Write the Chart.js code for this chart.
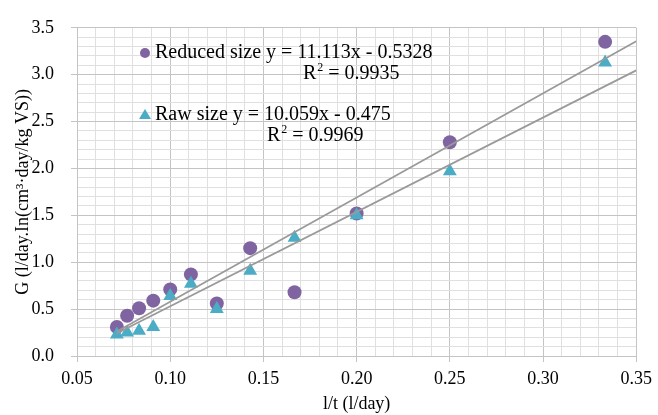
<!DOCTYPE html>
<html>
<head>
<meta charset="utf-8">
<script src="https://cdn.jsdelivr.net/npm/chart.js@4"></script>
<style>
  html, body { margin: 0; padding: 0; background: #ffffff; }
  #wrap { width: 658px; height: 415px; }
</style>
</head>
<body>
<div id="wrap"><canvas id="chart" width="658" height="415"></canvas></div>
<script>
// inverse retention time, 1/t (l/day)
const invT = [0.0714, 0.0769, 0.0833, 0.0909, 0.1, 0.1111, 0.125, 0.1429, 0.1667, 0.2, 0.25, 0.3333];
const reducedG = [0.31, 0.43, 0.51, 0.59, 0.71, 0.87, 0.56, 1.15, 0.68, 1.52, 2.28, 3.35];
const rawG = [0.23, 0.25, 0.27, 0.31, 0.64, 0.77, 0.50, 0.91, 1.26, 1.50, 1.97, 3.13];

// trendline coefficients as printed on the chart: [slope, intercept]
const reducedFit = [11.113, -0.5328];
const rawFit = [10.059, -0.475];
const trendRange = [0.0714, 0.35];

const labels = [
  { text: "Reduced size y = 11.113x - 0.5328", r2: "0.9935" },
  { text: "Raw size y = 10.059x - 0.475", r2: "0.9969" },
];

const PURPLE = "#8064a2";
const AQUA = "#4bacc6";
const SERIF = "'Liberation Serif', 'Times New Roman', serif";

const toPoints = (xs, ys) => xs.map((x, i) => ({ x, y: ys[i] }));
const fitLine = (fit) => trendRange.map((x) => ({ x, y: fit[0] * x + fit[1] }));

const isMajorX = (v) => Math.round(v * 100) % 5 === 0;
const isMajorY = (v) => Math.round(v * 10) % 5 === 0;

function drawR2(ctx, x, y, val) {
  ctx.fillText("R", x, y);
  const w = ctx.measureText("R").width;
  ctx.save();
  ctx.font = "12px " + SERIF;
  ctx.fillText("2", x + w + 1, y - 6);
  const w2 = ctx.measureText("2").width;
  ctx.restore();
  ctx.fillText(" = " + val, x + w + 1 + w2, y);
}

// equation labels beside the points, like the Excel trendline labels
const annotate = {
  id: "annotate",
  afterDatasetsDraw(chart) {
    const ctx = chart.ctx;
    ctx.save();
    ctx.font = "20px " + SERIF;
    ctx.textBaseline = "middle";
    ctx.textAlign = "left";

    ctx.fillStyle = PURPLE;
    ctx.beginPath();
    ctx.arc(145, 53, 5, 0, Math.PI * 2);
    ctx.fill();
    ctx.fillStyle = "#000";
    ctx.fillText(labels[0].text, 155, 53);
    drawR2(ctx, 303, 74, labels[0].r2);

    ctx.fillStyle = AQUA;
    ctx.beginPath();
    ctx.moveTo(145, 109);
    ctx.lineTo(151, 119);
    ctx.lineTo(139, 119);
    ctx.closePath();
    ctx.fill();
    ctx.fillStyle = "#000";
    ctx.fillText(labels[1].text, 155, 115);
    drawR2(ctx, 267, 136, labels[1].r2);

    ctx.restore();
  },
};

new Chart(document.getElementById("chart"), {
  type: "scatter",
  data: {
    datasets: [
      {
        type: "line",
        data: fitLine(reducedFit),
        borderColor: "#9a9a9a",
        borderWidth: 1.8,
        pointRadius: 0,
      },
      {
        type: "line",
        data: fitLine(rawFit),
        borderColor: "#9a9a9a",
        borderWidth: 1.8,
        pointRadius: 0,
      },
      {
        label: "Raw size",
        data: toPoints(invT, rawG),
        pointStyle: "triangle",
        pointRadius: 8,
        backgroundColor: AQUA,
        borderColor: AQUA,
        borderWidth: 0,
      },
      {
        label: "Reduced size",
        data: toPoints(invT, reducedG),
        pointStyle: "circle",
        pointRadius: 7,
        backgroundColor: PURPLE,
        borderColor: PURPLE,
        borderWidth: 0,
      },
    ],
  },
  options: {
    responsive: false,
    animation: false,
    events: [],
    layout: { padding: { left: 0, right: 21, top: 19, bottom: 0 } },
    plugins: {
      legend: { display: false },
      tooltip: { enabled: false },
    },
    scales: {
      x: {
        type: "linear",
        min: 0.05,
        max: 0.35,
        afterFit: (s) => { s.height = 59; },
        ticks: {
          stepSize: 0.01,
          autoSkip: false,
          maxRotation: 0,
          padding: 6,
          color: "#000",
          font: { family: SERIF, size: 18 },
          callback: (v) => (isMajorX(v) ? v.toFixed(2) : ""),
        },
        grid: {
          color: (c) => (isMajorX(c.tick.value) ? "#c4c4c4" : "#e0e0e0"),
          tickColor: (c) => (isMajorX(c.tick.value) ? "#c4c4c4" : "rgba(0,0,0,0)"),
          tickLength: 6,
          lineWidth: 1,
        },
        border: { color: "#c4c4c4" },
        title: {
          display: true,
          text: "l/t (l/day)",
          color: "#000",
          font: { family: SERIF, size: 18 },
          padding: { top: 0, bottom: 0 },
        },
      },
      y: {
        type: "linear",
        min: 0,
        max: 3.5,
        afterFit: (s) => { s.width = 77; },
        ticks: {
          stepSize: 0.1,
          autoSkip: false,
          padding: 17,
          color: "#000",
          font: { family: SERIF, size: 18 },
          callback: (v) => (isMajorY(v) ? v.toFixed(1) : ""),
        },
        grid: {
          color: (c) => (isMajorY(c.tick.value) ? "#c4c4c4" : "#e0e0e0"),
          tickColor: (c) => (isMajorY(c.tick.value) ? "#c4c4c4" : "rgba(0,0,0,0)"),
          tickLength: 6,
          lineWidth: 1,
        },
        border: { color: "#c4c4c4" },
        title: {
          display: true,
          text: "G (l/day.In(cm³·day/kg VS))",
          color: "#000",
          font: { family: SERIF, size: 18 },
          padding: { top: 12, bottom: 0 },
        },
      },
    },
  },
  plugins: [annotate],
});
</script>
</body>
</html>
